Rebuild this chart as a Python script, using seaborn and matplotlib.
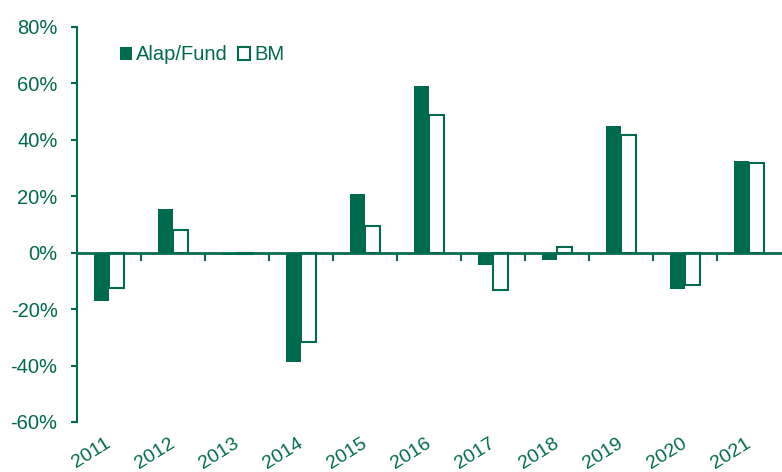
import matplotlib
matplotlib.use("Agg")
import matplotlib.pyplot as plt
import matplotlib.transforms as mtransforms
from matplotlib.patches import Patch
import seaborn as sns
import pandas as pd

years = ["2011", "2012", "2013", "2014", "2015", "2016", "2017", "2018", "2019", "2020", "2021"]
fund = [-17.3, 15.6, -1.0, -38.6, 20.9, 59.2, -4.3, -2.5, 45.0, -12.8, 32.6]
bm = [-12.5, 8.2, -0.3, -31.6, 9.6, 48.9, -13.1, 2.0, 41.8, -11.3, 31.9]
series = ["Alap/Fund", "BM"]
yticks = [-60, -40, -20, 0, 20, 40, 60, 80]

GREEN = "#006A4E"
FS = 14.5

sns.set_theme(style="white")
plt.rcParams["font.family"] = ["Liberation Sans", "DejaVu Sans"]

df = pd.DataFrame({
    "year": years * 2,
    "value": fund + bm,
    "series": [series[0]] * len(years) + [series[1]] * len(years),
})

fig = plt.figure(figsize=(7.82, 4.72), dpi=100)
ax = fig.add_axes([0.0985, 0.106, 0.9, 0.837])

sns.barplot(data=df, x="year", y="value", hue="series", order=years,
            hue_order=series, palette=[GREEN, "white"], width=0.47, gap=0,
            ax=ax, legend=False, saturation=1)

n = len(years)
for i, p in enumerate(ax.patches[:2 * n]):
    if i < n:
        p.set_facecolor(GREEN)
        p.set_edgecolor(GREEN)
        p.set_linewidth(0)
    else:
        p.set_facecolor("white")
        p.set_edgecolor(GREEN)
        p.set_linewidth(1.5)

ax.set_ylim(-60, 80)
ax.set_xlim(-0.5, n - 0.5)
ax.set_yticks(yticks)
ax.set_yticklabels([f"{v}%" for v in yticks], color=GREEN, fontsize=FS)
ax.set_xlabel("")
ax.set_ylabel("")

for s in ["top", "right"]:
    ax.spines[s].set_visible(False)
ax.spines["left"].set_color(GREEN)
ax.spines["left"].set_linewidth(1.5)
ax.spines["bottom"].set_position(("data", 0))
ax.spines["bottom"].set_color(GREEN)
ax.spines["bottom"].set_linewidth(2)

ax.set_xticks([i + 0.5 for i in range(n - 1)])
ax.set_xticklabels([])
ax.tick_params(axis="x", direction="out", length=6, width=1.5, color=GREEN, bottom=True)
ax.tick_params(axis="y", direction="out", length=4, width=1.5, color=GREEN, left=True, pad=10)

trans = mtransforms.blended_transform_factory(ax.transData, ax.transAxes)
for i, y in enumerate(years):
    ax.text(i - 0.06, -0.033, y, transform=trans, rotation=32, ha="right", va="top",
            rotation_mode="anchor", color=GREEN, fontsize=14)

handles = [Patch(facecolor=GREEN, edgecolor=GREEN, linewidth=0),
           Patch(facecolor="white", edgecolor=GREEN, linewidth=1.5)]
leg = ax.legend(handles, series, ncol=2, loc="center left", bbox_to_anchor=(0.05, 0.929),
                frameon=False, handlelength=0.6, handleheight=0.6, handletextpad=0.2,
                columnspacing=0.5, fontsize=FS, borderaxespad=0)
for t in leg.get_texts():
    t.set_color(GREEN)

fig.savefig("out.png", dpi=100)
